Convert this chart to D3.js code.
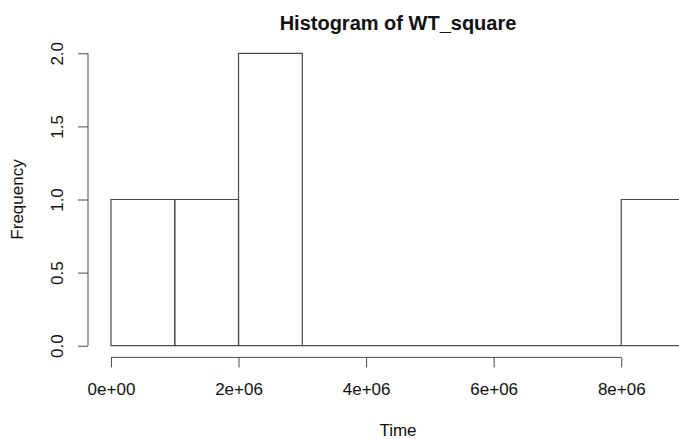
<!DOCTYPE html>
<html>
<head>
<meta charset="utf-8">
<script src="https://cdn.jsdelivr.net/npm/d3@7"></script>
<style>
  body { margin: 0; background: #fff; }
  svg text { font-family: "Liberation Sans", Arial, sans-serif; fill: #111; }
</style>
</head>
<body>
<div id="chart-area"></div>
<script>
// histogram bins of WT_square
const breaks = [0, 1e6, 2e6, 3e6, 4e6, 5e6, 6e6, 7e6, 8e6, 9e6];
const counts = [1, 1, 2, 0, 0, 0, 0, 0, 1];
const xTicks = [0, 2e6, 4e6, 6e6, 8e6];
const xTickLabels = ['0e+00', '2e+06', '4e+06', '6e+06', '8e+06'];
const yTicks = [0, 0.5, 1, 1.5, 2];
const yTickLabels = ['0.0', '0.5', '1.0', '1.5', '2.0'];

const chartSize = { width: 679, height: 439 };
const plot = { left: 88, right: 708, top: 41.6, bottom: 357.4 };
const ink = '#4a4a4a';

const bins = counts.map((n, i) => ({ x0: breaks[i], x1: breaks[i + 1], n }));

const svg = d3.select('#chart-area').append('svg')
  .attr('width', chartSize.width)
  .attr('height', chartSize.height);

// R style 4% padding around the data range
const xPad = (breaks[breaks.length - 1] - breaks[0]) * 0.04;
const x = d3.scaleLinear()
  .domain([breaks[0] - xPad, breaks[breaks.length - 1] + xPad])
  .range([plot.left, plot.right]);

const yPad = d3.max(counts) * 0.04;
const y = d3.scaleLinear()
  .domain([-yPad, d3.max(counts) + yPad])
  .range([plot.bottom, plot.top]);

// paths, so that empty bins still show as a flat line on 0
svg.append('g').attr('class', 'bars')
  .selectAll('path')
  .data(bins)
  .enter().append('path')
  .attr('d', d => {
    const p = d3.path();
    p.rect(x(d.x0), y(d.n), x(d.x1) - x(d.x0), y(0) - y(d.n));
    return p.toString();
  })
  .attr('fill', 'none')
  .attr('stroke', ink)
  .attr('stroke-width', 1.2);

const xAxis = d3.axisBottom(x)
  .tickValues(xTicks)
  .tickFormat((d, i) => xTickLabels[i])
  .tickSize(10);

const xg = svg.append('g')
  .attr('class', 'x axis')
  .attr('transform', `translate(0,${plot.bottom})`)
  .call(xAxis);
xg.select('.domain').remove();
xg.append('line')
  .attr('x1', x(xTicks[0])).attr('x2', x(xTicks[xTicks.length - 1]))
  .attr('stroke', ink);
xg.selectAll('.tick line').attr('stroke', ink);
xg.selectAll('.tick text')
  .attr('font-size', 17)
  .attr('fill', '#111')
  .attr('y', 32)
  .attr('dy', 0)
  .attr('dominant-baseline', 'central');

const yAxis = d3.axisLeft(y)
  .tickValues(yTicks)
  .tickFormat((d, i) => yTickLabels[i])
  .tickSize(10);

const yg = svg.append('g')
  .attr('class', 'y axis')
  .attr('transform', `translate(${plot.left},0)`)
  .call(yAxis);
yg.select('.domain').remove();
yg.append('line')
  .attr('y1', y(yTicks[0])).attr('y2', y(yTicks[yTicks.length - 1]))
  .attr('stroke', ink);
yg.selectAll('.tick line').attr('stroke', ink);
yg.selectAll('.tick text')
  .attr('font-size', 17)
  .attr('fill', '#111')
  .attr('text-anchor', 'middle')
  .attr('dy', 0)
  .attr('x', 0)
  .attr('transform', 'translate(-31,0) rotate(-90)')
  .attr('dominant-baseline', 'central');

const midX = (plot.left + plot.right) / 2;
const midY = (plot.top + plot.bottom) / 2;

svg.append('text')
  .attr('x', midX).attr('y', 30)
  .attr('text-anchor', 'middle')
  .attr('font-size', 20)
  .attr('font-weight', 'bold')
  .text('Histogram of WT_square');

svg.append('text')
  .attr('x', midX).attr('y', 430)
  .attr('text-anchor', 'middle')
  .attr('dominant-baseline', 'central')
  .attr('font-size', 17)
  .text('Time');

svg.append('text')
  .attr('transform', `translate(17,${midY}) rotate(-90)`)
  .attr('text-anchor', 'middle')
  .attr('dominant-baseline', 'central')
  .attr('font-size', 17)
  .text('Frequency');
</script>
</body>
</html>
